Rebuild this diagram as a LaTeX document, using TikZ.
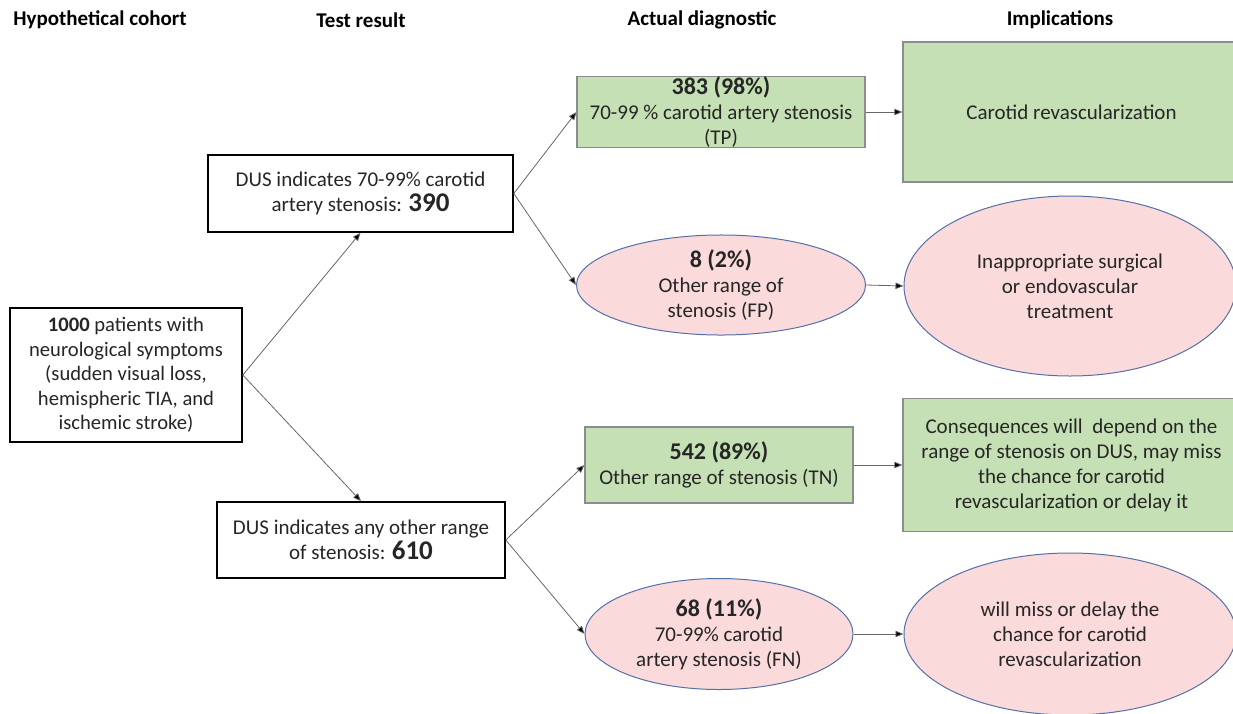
\documentclass[tikz,border=0pt]{standalone}
\usepackage{fontspec}
\setmainfont{Carlito}
\usetikzlibrary{arrows.meta,positioning,shapes.geometric}
\definecolor{okgreen}{RGB}{197,224,180}
\definecolor{okedge}{RGB}{140,140,140}
\definecolor{badpink}{RGB}{250,218,218}
\definecolor{badedge}{RGB}{84,112,168}
\definecolor{ink}{RGB}{38,38,38}
\newcommand{\cnt}[1]{{\fontsize{12}{14}\selectfont\bfseries #1}}
\newcommand{\bigcnt}[1]{{\fontsize{13.5}{14}\selectfont\bfseries #1}}

\begin{document}
\begin{tikzpicture}[x=0.5pt,y=-0.5pt,
  every node/.style={font=\fontsize{10.5}{12.5}\selectfont, text=ink, align=center},
  head/.style={font=\fontsize{10.5}{12.5}\selectfont\bfseries, text=black},
  whitebox/.style={draw=black, line width=0.8pt, fill=white, inner sep=2pt},
  greenbox/.style={draw=okedge, line width=0.6pt, fill=okgreen, inner sep=1pt},
  pinkoval/.style={ellipse, draw=badedge, line width=0.5pt, fill=badpink, inner sep=0pt},
  link/.style={draw=black!60, line width=0.4pt, -{Triangle[length=4pt,width=3.2pt,fill=black]}}]
  \useasboundingbox (0,0) rectangle (1233,713);

  % column heads
  \node[head] (hcoh) at (100,20) {Hypothetical cohort};
  \node[head] (htest) at (361,20) {Test result};
  \node[head] (hdiag) at (702,20) {Actual diagnostic};
  \node[head] (himpl) at (1060,20) {Implications};

  % cohort and test result
  \node[whitebox, minimum width=116pt, minimum height=67pt, font=\fontsize{10.3}{12.25}\selectfont] (cohort) at (126,375)
    {\textbf{1000} patients with\\neurological symptoms\\(sudden visual loss,\\hemispheric TIA, and\\ischemic stroke)};
  \node[whitebox, minimum width=152.5pt, minimum height=38.5pt] (pos) at (360.5,193.5)
    {DUS indicates 70-99\% carotid\\artery stenosis: \bigcnt{390}};
  \node[whitebox, minimum width=144pt, minimum height=38pt] (neg) at (361,540)
    {DUS indicates any other range\\of stenosis: \bigcnt{610}};

  % actual diagnostic
  \node[greenbox, minimum width=144pt, minimum height=35.5pt, inner ysep=0pt] (tp) at (721,112)
    {\cnt{383 (98\%)}\\70-99 \% carotid artery stenosis\\(TP)};
  \node[pinkoval, minimum width=144.5pt, minimum height=48pt] (fp) at (721,285)
    {\cnt{8 (2\%)}\\Other range of\\stenosis (FP)};
  \node[greenbox, minimum width=134pt, minimum height=38pt] (tn) at (719,465)
    {\cnt{542 (89\%)}\\Other range of stenosis (TN)};
  \node[pinkoval, minimum width=134pt, minimum height=55.5pt] (fn) at (719,634)
    {\cnt{68 (11\%)}\\70-99\% carotid\\artery stenosis (FN)};

  % implications
  \node[greenbox, minimum width=168.5pt, minimum height=70pt] (revasc) at (1071.5,112)
    {Carotid revascularization};
  \node[pinkoval, minimum width=166pt, minimum height=90pt] (harm) at (1070,286)
    {Inappropriate surgical\\or endovascular\\treatment};
  \node[greenbox, minimum width=168.5pt, minimum height=66.5pt] (later) at (1071.5,465)
    {Consequences will\ \ depend on the\\range of stenosis on DUS, may miss\\the chance for carotid\\revascularization or delay it};
  \node[pinkoval, minimum width=166pt, minimum height=81pt] (miss) at (1070,634)
    {will miss or delay the\\chance for carotid\\revascularization};

  \draw[link] (cohort.east) -- (pos.south);
  \draw[link] (cohort.east) -- (neg.north);
  \foreach \a/\b in {pos/tp, pos/fp, neg/tn, neg/fn, tp/revasc, fp/harm, tn/later, fn/miss}
    \draw[link] (\a.east) -- (\b.west);
\end{tikzpicture}
\end{document}
